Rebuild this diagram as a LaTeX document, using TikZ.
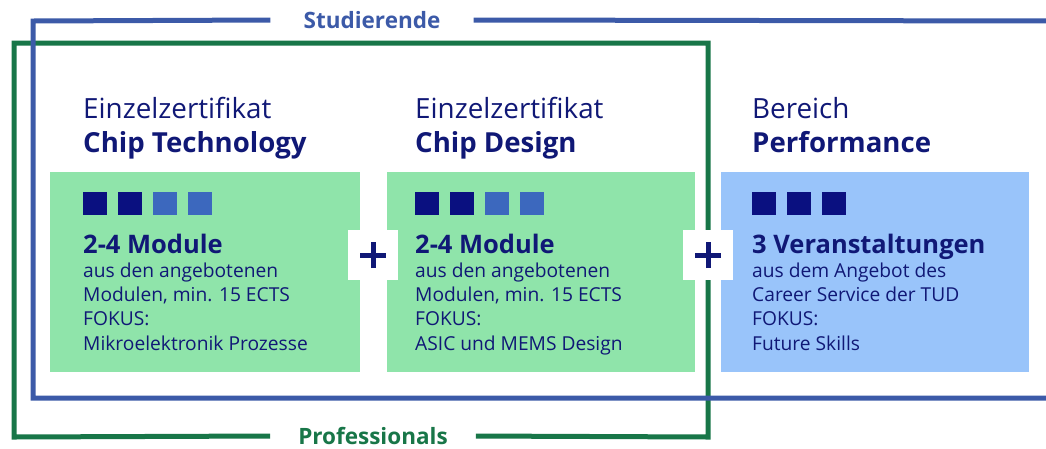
\documentclass[tikz,border=0pt]{standalone}
\usepackage{fontspec}
\setmainfont{Open Sans}
\usetikzlibrary{positioning}

\definecolor{navy}{RGB}{16,24,118}
\definecolor{sqdark}{RGB}{10,16,128}
\definecolor{sqlight}{RGB}{60,104,190}
\definecolor{framblue}{RGB}{60,90,168}
\definecolor{framgreen}{RGB}{24,118,72}
\definecolor{boxgreen}{RGB}{143,228,170}
\definecolor{boxblue}{RGB}{153,196,250}

\tikzset{
	head/.style={anchor=base west, inner sep=0pt, text=navy, font=\fontsize{27.8}{32}\selectfont},
	headbold/.style={head, font=\fontsize{27.6}{32}\selectfont\bfseries},
	count/.style={anchor=base west, inner sep=0pt, text=navy, font=\fontsize{25.5}{30}\selectfont\bfseries},
	body/.style={anchor=base west, inner sep=0pt, text=navy, font=\fontsize{19.2}{24}\selectfont},
	framelabel/.style={fill=white, inner xsep=33pt, inner ysep=2pt, font=\fontsize{22.5}{26}\selectfont\bfseries},
	plusbox/.style={fill=white, minimum size=50pt, inner sep=0pt},
	plusline/.style={line width=5pt, navy}
}

\begin{document}
\begin{tikzpicture}[x=1pt,y=-1pt]
	%\draw[help lines] (0,0) grid (1046,448);
	\useasboundingbox (0,0) rectangle (1046,448);

	% boxes
	\fill[boxgreen] (50,172) rectangle (360,372);
	\fill[boxgreen] (387,172) rectangle (695,372);
	\fill[boxblue] (721,172) rectangle (1029,372);

	% Professionals frame
	\node[framelabel, text=framgreen, inner xsep=28pt] (prof) at (373,436) {Professionals};
	\draw[line width=5pt, framgreen] (prof.west) -- (14,437) -- (14,43) -- (708,43) -- (708,437) -- (prof.east);

	% Studierende frame
	\node[framelabel, text=framblue] (stud) at (372,20) {Studierende};
	\draw[line width=5pt, framblue] (stud.west) -- (33,21) -- (33,398) -- (1050,398);
	\draw[line width=5pt, framblue] (stud.east) -- (1050,21);

	% headings
	\node[head] (tech-a) at (83,118) {Einzelzertifikat};
	\node[headbold] (tech-b) at (83,152) {Chip Technology};
	\node[head] (design-a) at (415,118) {Einzelzertifikat};
	\node[headbold] (design-b) at (415,152) {Chip Design};
	\node[head] (perf-a) at (752,118) {Bereich};
	\node[headbold] (perf-b) at (752,152) {Performance};

	% module squares
	\foreach \x/\c in {0/sqdark, 1/sqdark, 2/sqlight, 3/sqlight} {
		\fill[\c] (83+35*\x,192) rectangle ++(24,23);
		\fill[\c] (415+35*\x,192) rectangle ++(24,23);
	}
	\foreach \x in {0,1,2}
		\fill[sqdark] (752+35*\x,192) rectangle ++(24,23);

	% box texts
	\node[count] (tech-c) at (83,253) {2-4 Module};
	\foreach \t [count=\i] in {aus den angebotenen, {Modulen, min. 15 ECTS}, FOKUS:, Mikroelektronik Prozesse}
		\node[body] (tech-l\i) at (83,253+24.3*\i) {\t};

	\node[count] (design-c) at (415,253) {2-4 Module};
	\foreach \t [count=\i] in {aus den angebotenen, {Modulen, min. 15 ECTS}, FOKUS:, ASIC und MEMS Design}
		\node[body] (design-l\i) at (415,253+24.3*\i) {\t};

	\node[count] (perf-c) at (752,253) {3 Veranstaltungen};
	\foreach \t [count=\i] in {aus dem Angebot des, Career Service der TUD, FOKUS:, Future Skills}
		\node[body] (perf-l\i) at (752,253+24.3*\i) {\t};

	% plus signs
	\node[plusbox] (plus1) at (373,255) {};
	\node[plusbox] (plus2) at (708,255) {};
	\foreach \p in {plus1, plus2} {
		\draw[plusline] ([xshift=-13pt]\p.center) -- ([xshift=13pt]\p.center);
		\draw[plusline] ([yshift=-13pt]\p.center) -- ([yshift=13pt]\p.center);
	}
\end{tikzpicture}
\end{document}
